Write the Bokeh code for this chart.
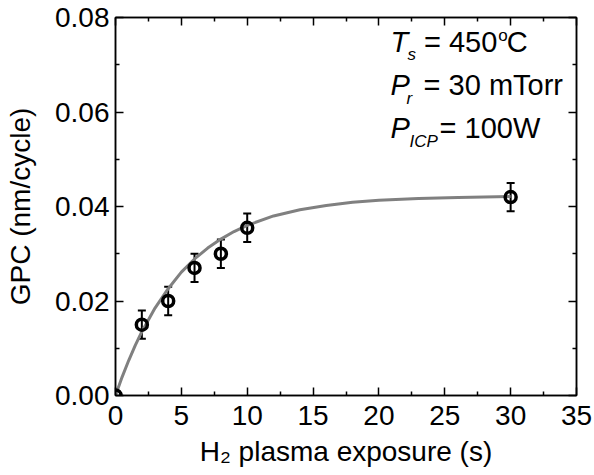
from bokeh.plotting import figure
from bokeh.models import (Range1d, LinearAxis, Whisker, TeeHead, ColumnDataSource, Label,
                          FixedTicker, NumeralTickFormatter, CustomJSTickFormatter)
from bokeh.embed import file_html
from bokeh.resources import INLINE

# ---- data ----
exposure_s = [0, 2, 4, 6, 8, 10, 30]
gpc = [0.0, 0.015, 0.020, 0.027, 0.030, 0.0355, 0.042]
gpc_err = [0.0, 0.003, 0.003, 0.003, 0.003, 0.003, 0.003]

fit_x = [0, 0.5, 1, 1.5, 2, 3, 4, 5, 6, 7, 8, 9, 10, 12, 14, 16, 18, 20, 23, 26, 30]
fit_y = [0.0, 0.0039, 0.0074, 0.0106, 0.0135, 0.0185, 0.0226, 0.0261, 0.0289, 0.0312,
         0.0331, 0.0347, 0.0360, 0.0380, 0.0393, 0.0402, 0.0409, 0.0413, 0.0417, 0.0419, 0.0421]

x_ticks = [0, 5, 10, 15, 20, 25, 30, 35]
x_minor = [2.5, 7.5, 12.5, 17.5, 22.5, 27.5, 32.5]
y_ticks = [0.0, 0.02, 0.04, 0.06, 0.08]
y_minor = [0.01, 0.03, 0.05, 0.07]

FONT = "Liberation Sans"

p = figure(width=594, height=475, output_backend="svg", toolbar_location=None,
           x_range=Range1d(0, 35), y_range=Range1d(0, 0.08),
           min_border_left=115, min_border_right=18, min_border_top=17, min_border_bottom=80)
p.grid.visible = False
p.outline_line_color = "black"
p.outline_line_width = 1.5
p.background_fill_color = "white"
p.border_fill_color = "white"


def style_axis(ax, ticks, minor, show_labels):
    ax.ticker = FixedTicker(ticks=ticks, minor_ticks=minor)
    ax.major_tick_in = 8
    ax.major_tick_out = 0
    ax.minor_tick_in = 4
    ax.minor_tick_out = 0
    ax.major_tick_line_width = 1.5
    ax.minor_tick_line_width = 1.5
    ax.axis_line_width = 1.5
    ax.major_label_text_font = FONT
    ax.major_label_text_font_size = "28px"
    ax.major_label_text_color = "black"
    if not show_labels:
        ax.formatter = CustomJSTickFormatter(code="return ''")


style_axis(p.xaxis[0], x_ticks, x_minor, True)
p.xaxis[0].major_label_standoff = 10
p.xaxis[0].axis_label = "H\u2082 plasma exposure (s)"
p.xaxis[0].axis_label_text_font = FONT
p.xaxis[0].axis_label_text_font_size = "28px"
p.xaxis[0].axis_label_text_font_style = "normal"
p.xaxis[0].axis_label_text_color = "black"
p.xaxis[0].axis_label_standoff = 8

style_axis(p.yaxis[0], y_ticks, y_minor, True)
p.yaxis[0].formatter = NumeralTickFormatter(format="0.00")
p.yaxis[0].major_label_standoff = 6
p.yaxis[0].axis_label = "GPC (nm/cycle)"
p.yaxis[0].axis_label_text_font = FONT
p.yaxis[0].axis_label_text_font_size = "28px"
p.yaxis[0].axis_label_text_font_style = "normal"
p.yaxis[0].axis_label_text_color = "black"
p.yaxis[0].axis_label_standoff = 16

top = LinearAxis()
style_axis(top, x_ticks, x_minor, False)
p.add_layout(top, "above")
right = LinearAxis()
style_axis(right, y_ticks, y_minor, False)
p.add_layout(right, "right")

# fit curve
p.line(fit_x, fit_y, line_color="#808080", line_width=3)

# error bars
eb_x = [x for x, e in zip(exposure_s, gpc_err) if e > 0]
eb_up = [y + e for y, e in zip(gpc, gpc_err) if e > 0]
eb_lo = [y - e for y, e in zip(gpc, gpc_err) if e > 0]
eb_src = ColumnDataSource(dict(x=eb_x, upper=eb_up, lower=eb_lo))
p.add_layout(Whisker(base="x", upper="upper", lower="lower", source=eb_src,
                     line_color="black", line_width=2,
                     upper_head=TeeHead(size=8, line_width=2, line_color="black"),
                     lower_head=TeeHead(size=8, line_width=2, line_color="black")))

# data points
p.scatter(exposure_s, gpc, marker="circle", size=11, line_width=3.5,
          line_color="black", fill_color=None)


def lab(x, y, text, size, style="normal"):
    p.add_layout(Label(x=x, y=y, text=text, text_font=FONT, text_font_size=size,
                       text_font_style=style, text_color="black",
                       text_align="left", text_baseline="alphabetic"))


# annotation block
lab(20.88, 0.07490, "T", "29px", "italic")
lab(22.17, 0.07223, "s", "17px", "italic")
lab(23.42, 0.07490, "= 450", "29px")
lab(29.05, 0.07623, "o", "17px")
lab(29.70, 0.07490, "C", "29px")

lab(20.88, 0.06571, "P", "29px", "italic")
lab(22.09, 0.06285, "r", "17px", "italic")
lab(23.39, 0.06571, "= 30 mTorr", "29px")

lab(20.88, 0.05669, "P", "29px", "italic")
lab(22.32, 0.05382, "ICP", "17px", "italic")
lab(24.60, 0.05669, "= 100W", "29px")

open("out.html", "w").write(file_html(p, INLINE))
